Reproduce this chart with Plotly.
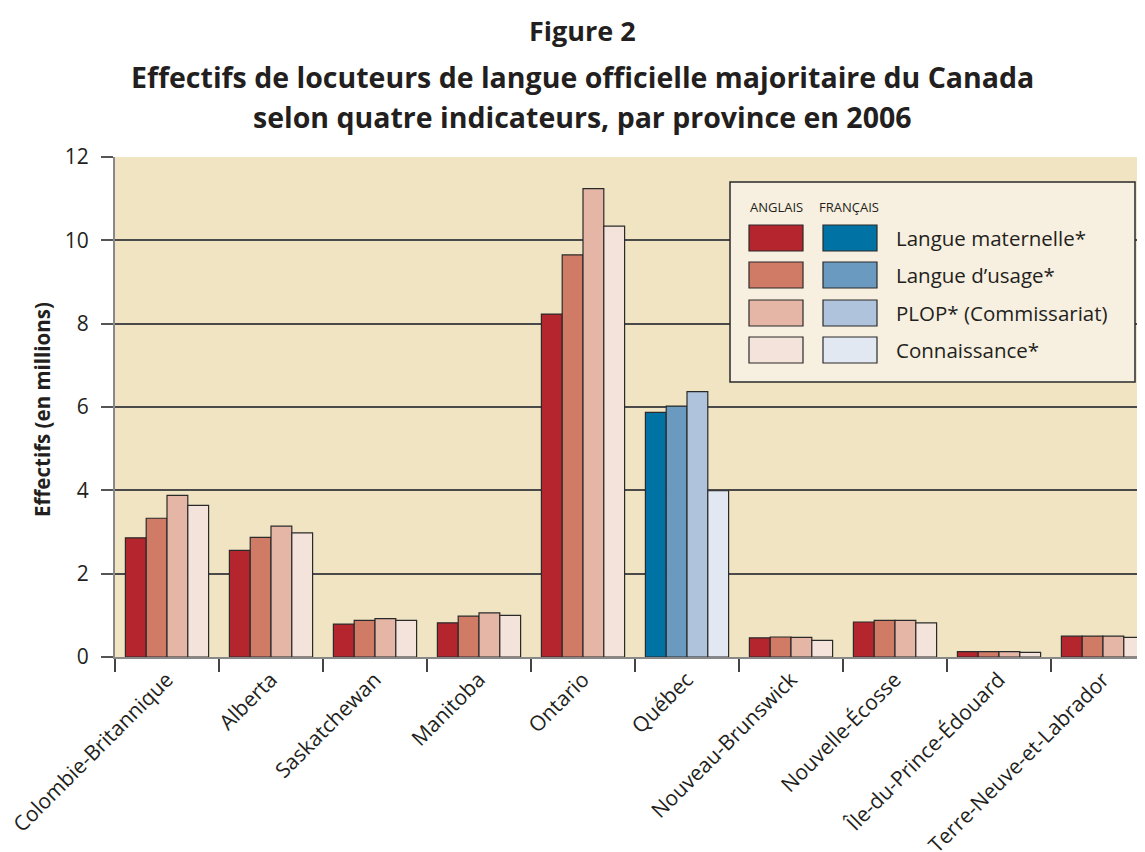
import plotly.graph_objects as go

provinces = ["Colombie-Britannique", "Alberta", "Saskatchewan", "Manitoba", "Ontario",
             "Québec", "Nouveau-Brunswick", "Nouvelle-Écosse", "Île-du-Prince-Édouard",
             "Terre-Neuve-et-Labrador"]
indicators = ["Langue maternelle*", "Langue d’usage*", "PLOP* (Commissariat)", "Connaissance*"]

langue_maternelle = [2.86, 2.56, 0.79, 0.82, 8.23, 5.87, 0.46, 0.84, 0.13, 0.50]
langue_usage      = [3.33, 2.87, 0.88, 0.98, 9.65, 6.02, 0.48, 0.88, 0.13, 0.50]
plop              = [3.88, 3.14, 0.92, 1.06, 11.24, 6.37, 0.47, 0.88, 0.13, 0.50]
connaissance      = [3.64, 2.98, 0.88, 1.00, 10.34, 3.99, 0.40, 0.82, 0.11, 0.47]

# majority official language per province
majority = ["en", "en", "en", "en", "en", "fr", "en", "en", "en", "en"]

colors_en = ["#B5252E", "#CF7B66", "#E5B6A6", "#F4E3DB"]
colors_fr = ["#0072A3", "#6A9AC0", "#AFC3DC", "#E1E8F2"]

series = [langue_maternelle, langue_usage, plop, connaissance]

OFF = 8  # page body margin
W, H = 1145 - OFF, 852 - OFF
# plot area in screen pixels
L, R, T, B = 115, 1145, 157, 657

fig = go.Figure()
for i, (name, vals) in enumerate(zip(indicators, series)):
    cols = [colors_en[i] if m == "en" else colors_fr[i] for m in majority]
    fig.add_trace(go.Bar(
        x=provinces, y=vals, name=name,
        marker=dict(color=cols, line=dict(color="#2a2a2a", width=1.2)),
        showlegend=False,
    ))

def px(x):
    return (x - L) / (R - L)

def py(y):
    return (B - y) / (B - T)

TXT = "#231F20"
shapes = []
annotations = []

# legend box
shapes.append(dict(type="rect", xref="paper", yref="paper",
                   x0=px(730), x1=px(1135), y0=py(382), y1=py(182),
                   fillcolor="#F7EFDF", line=dict(color="#2a2a2a", width=1.5), layer="above"))
annotations.append(dict(xref="paper", yref="paper", x=px(776), y=py(207), text="ANGLAIS",
                        showarrow=False, font=dict(size=13, color=TXT), xanchor="center", yanchor="middle"))
annotations.append(dict(xref="paper", yref="paper", x=px(849), y=py(207), text="FRANÇAIS",
                        showarrow=False, font=dict(size=13, color=TXT), xanchor="center", yanchor="middle"))
row_tops = [225, 262, 300, 337]
for i, top in enumerate(row_tops):
    shapes.append(dict(type="rect", xref="paper", yref="paper",
                       x0=px(749), x1=px(803), y0=py(top + 26), y1=py(top),
                       fillcolor=colors_en[i], line=dict(color="#2a2a2a", width=1.2), layer="above"))
    shapes.append(dict(type="rect", xref="paper", yref="paper",
                       x0=px(823), x1=px(877), y0=py(top + 26), y1=py(top),
                       fillcolor=colors_fr[i], line=dict(color="#2a2a2a", width=1.2), layer="above"))
    annotations.append(dict(xref="paper", yref="paper", x=px(894), y=py(top + 13),
                            text=indicators[i], showarrow=False,
                            font=dict(size=20.5, color=TXT), xanchor="left", yanchor="middle"))

# titles
annotations.append(dict(xref="paper", yref="paper", x=px(582), y=py(30), text="<b>Figure 2</b>",
                        showarrow=False, font=dict(size=27, color=TXT), xanchor="center", yanchor="middle"))
annotations.append(dict(xref="paper", yref="paper", x=px(582), y=py(77),
                        text="<b>Effectifs de locuteurs de langue officielle majoritaire du Canada</b>",
                        showarrow=False, font=dict(size=28.5, color=TXT), xanchor="center", yanchor="middle"))
annotations.append(dict(xref="paper", yref="paper", x=px(582), y=py(117),
                        text="<b>selon quatre indicateurs, par province en 2006</b>",
                        showarrow=False, font=dict(size=28.5, color=TXT), xanchor="center", yanchor="middle"))
# y-axis title
annotations.append(dict(xref="paper", yref="paper", x=px(42), y=py(410),
                        text="<b>Effectifs (en millions)</b>", textangle=-90,
                        showarrow=False, font=dict(size=20.5, color=TXT), xanchor="center", yanchor="middle"))

fig.update_layout(
    width=W, height=H,
    margin=dict(l=L - OFF, r=(W + OFF) - R, t=T - OFF, b=(H + OFF) - B, pad=0, autoexpand=False),
    paper_bgcolor="white",
    plot_bgcolor="#F1E4C3",
    barmode="group", bargap=0.2, bargroupgap=0,
    font=dict(family="Open Sans, sans-serif", color=TXT),
    shapes=shapes, annotations=annotations,
    xaxis=dict(
        range=[-0.5, -0.5 + (R - L) / 104.0],
        automargin=False,
        showgrid=False, showline=True, linecolor="#888", linewidth=2,
        ticks="outside", tickson="boundaries", ticklen=13, tickcolor="#444", tickwidth=1.5,
        tickangle=-45, tickfont=dict(size=21, color=TXT),
    ),
    yaxis=dict(
        range=[0, 12], tickvals=[0, 2, 4, 6, 8, 10, 12],
        automargin=False,
        showgrid=True, gridcolor="#4a4a4a", gridwidth=1.5,
        zeroline=False,
        showline=True, linecolor="#888", linewidth=2,
        ticks="outside", ticklen=12, tickcolor="#555", tickwidth=1.5,
        ticklabelstandoff=8,
        tickfont=dict(size=21, color=TXT),
    ),
)

fig.write_html("out.html")
